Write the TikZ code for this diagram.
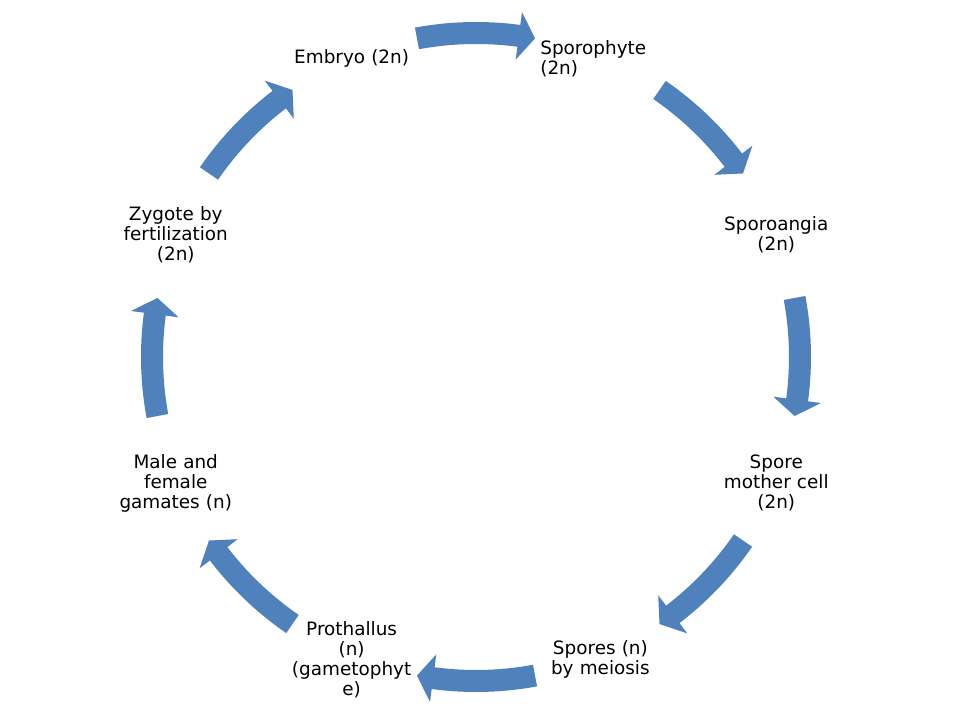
\documentclass[tikz,border=0pt]{standalone}
\usepackage{fontspec}
\setmainfont{DejaVu Sans}
\definecolor{cycleblue}{RGB}{79,129,189}

\begin{document}
\begin{tikzpicture}[x=0.75pt,y=0.75pt,
  stage/.style={text width=90pt,align=center,inner sep=0pt,yshift=-1.5pt,
    font=\fontsize{13.8}{15}\selectfont},
  turn/.style={fill=cycleblue}]
\useasboundingbox (-476,-363) rectangle (484,357);

% stages of the life cycle
\node[stage] (embryo) at (112.5:325) {Embryo (2n)};
\node[stage,align=left] (sporophyte) at (67.5:325) {Sporophyte\\(2n)};
\node[stage] (sporoangia) at (22.5:325) {Sporoangia\\(2n)};
\node[stage] (mothercell) at (-22.5:325) {Spore\\mother cell\\(2n)};
\node[stage] (spores) at (-67.5:325) {Spores (n)\\by meiosis};
\node[stage] (prothallus) at (-112.5:325) {Prothallus\\(n)\\(gametophyt\\e)};
\node[stage] (gametes) at (-157.5:325) {Male and\\female\\gamates (n)};
\node[stage] (zygote) at (157.5:325) {Zygote by\\fertilization\\(2n)};

% curved arrows, clockwise
\foreach \a in {90,45,...,-225}
  \fill[turn] (\a+10.5:313) arc[start angle=\a+10.5,end angle=\a-7.6,radius=313]
    -- (\a-7.6:300) -- (\a-10.5:324) -- (\a-7.6:348) -- (\a-7.6:335)
    arc[start angle=\a-7.6,end angle=\a+10.5,radius=335] -- cycle;
\end{tikzpicture}
\end{document}
